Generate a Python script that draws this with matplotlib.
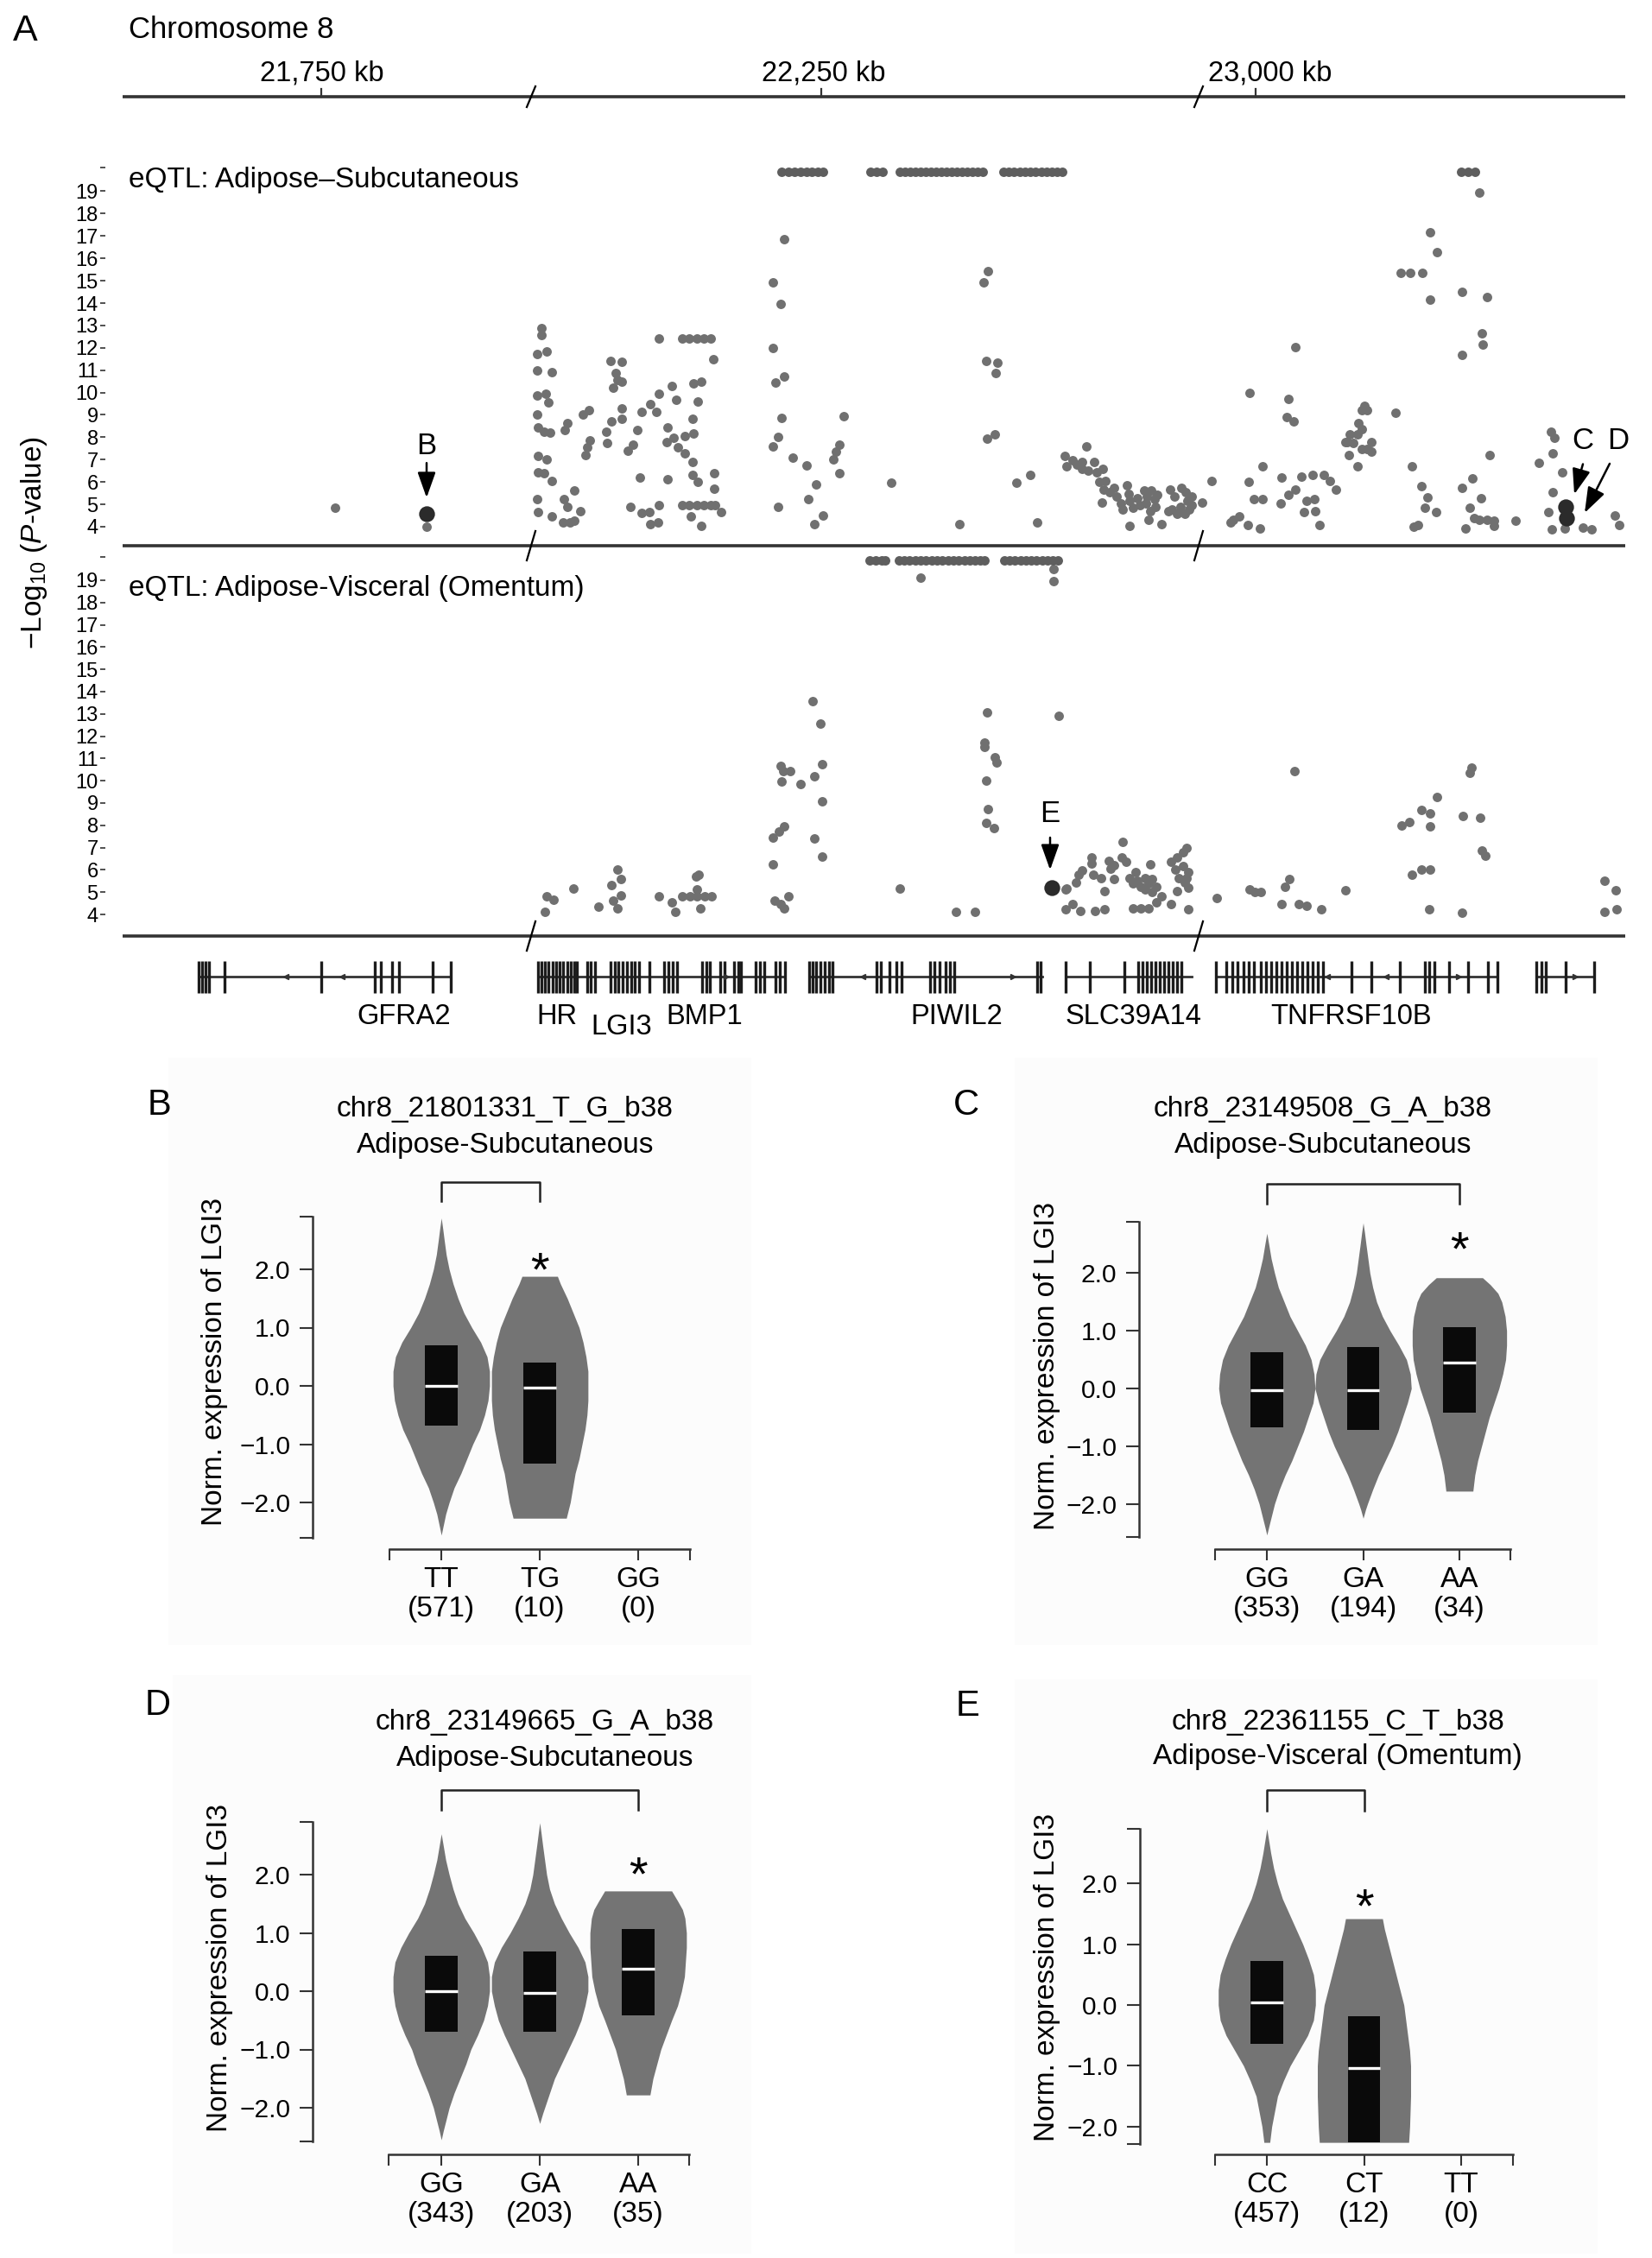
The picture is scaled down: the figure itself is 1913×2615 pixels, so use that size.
import matplotlib
matplotlib.use("Agg")
import matplotlib.pyplot as plt
from matplotlib.patches import Rectangle
import numpy as np

plt.rcParams['font.family'] = ['Liberation Sans', 'DejaVu Sans']
plt.rcParams['mathtext.fontset'] = 'custom'
plt.rcParams['mathtext.rm'] = 'Liberation Sans'
plt.rcParams['mathtext.it'] = 'Liberation Sans:italic'

# ---- panel A data (x = position along the drawn track, y = -log10 P) ----
kb_labels = ['21,750 kb', '22,250 kb', '23,000 kb']
kb_tick_x = [372, 951, 1454]
kb_label_x = [373, 954, 1471]

top_left = [(388, 4.85), (494, 4.0)]
top_hr = [(627, 12.88), (627, 12.56), (633, 11.83), (622, 11.72), (639, 10.91), (622, 11.0), (632, 9.95),
          (635, 9.56), (622, 9.86), (623, 8.44), (630, 8.25), (637, 8.22), (622, 9.0), (633, 7.02), (623, 7.15),
          (630, 6.38), (639, 6.06), (623, 6.45), (623, 4.64), (639, 4.45), (622, 5.22),
          (657, 8.63), (654, 8.31), (675, 9.02), (682, 9.21), (683, 7.86), (680, 7.54), (678, 7.22), (665, 5.61),
          (653, 5.22), (657, 4.9), (672, 4.71), (652, 4.19), (660, 4.19), (665, 4.26)]
top_lgi3 = [(707, 11.4), (720, 11.36), (713, 10.89), (715, 10.56), (710, 10.2), (720, 10.5), (720, 9.28),
            (708, 8.7), (720, 8.82), (702, 8.25), (703, 7.73), (727, 7.41), (733, 7.67), (738, 8.31), (743, 9.15),
            (753, 9.47), (760, 9.15), (763, 12.43), (763, 9.95), (741, 6.21), (730, 4.9), (743, 4.62), (752, 4.64),
            (763, 4.97), (753, 4.13), (762, 4.19)]
top_bmp1 = [(778, 10.3), (783, 9.69), (773, 8.44), (772, 7.8), (780, 7.99), (793, 8.05), (803, 8.18), (785, 7.54),
            (793, 7.28), (802, 6.9), (802, 8.83), (808, 9.6), (803, 10.4), (812, 10.5), (773, 6.12), (802, 6.32),
            (808, 6.0), (827, 6.38), (827, 5.7), (826, 11.49),
            (790, 12.43), (798, 12.43), (807, 12.43), (815, 12.43), (823, 12.43),
            (790, 4.97), (798, 4.97), (807, 4.97), (815, 4.97), (823, 4.97), (828, 4.97),
            (800, 4.45), (812, 4.03), (835, 4.67)]
top_piwil2 = [(895, 14.91), (904, 13.97), (908, 16.87), (895, 12.0), (908, 10.73), (898, 10.46), (905, 8.86),
              (901, 8.02), (895, 7.58), (901, 4.88), (918, 7.09), (934, 6.73), (945, 5.9), (936, 5.22), (953, 4.51),
              (943, 4.1), (977, 8.95), (972, 7.67), (968, 7.35), (965, 7.02), (972, 6.38), (1032, 5.96),
              (1144, 15.43), (1139, 14.91), (1142, 11.4), (1155, 11.34), (1153, 10.89), (1143, 7.93), (1152, 8.12),
              (1111, 4.1), (1177, 5.96), (1193, 6.32), (1201, 4.19), (1258, 7.58)]
top_slc = [(1233, 7.15), (1235, 6.7), (1242, 6.96), (1247, 6.77), (1253, 6.9), (1253, 6.57), (1260, 6.5),
           (1267, 6.9), (1270, 6.45), (1277, 6.57), (1273, 6.0), (1280, 6.06), (1278, 5.67), (1285, 5.54),
           (1276, 5.09), (1290, 5.74), (1293, 5.35), (1298, 5.03), (1300, 4.77), (1305, 5.87), (1307, 5.48),
           (1308, 5.16), (1312, 4.84), (1308, 4.03), (1317, 5.29), (1320, 4.97), (1325, 5.61), (1328, 5.35),
           (1327, 5.03), (1332, 4.71), (1330, 4.32), (1333, 5.61), (1337, 5.22), (1340, 5.42), (1338, 4.9),
           (1345, 4.13), (1355, 5.67), (1360, 5.35), (1357, 4.77), (1363, 4.58), (1368, 5.74), (1373, 5.54),
           (1375, 5.16), (1377, 4.77), (1372, 4.58), (1380, 5.35), (1380, 4.97), (1392, 5.09), (1367, 4.9),
           (1353, 4.71)]
top_tnf = [(1403, 6.06), (1447, 9.98), (1446, 6.0), (1462, 6.7), (1452, 5.22), (1462, 5.22), (1425, 4.19),
           (1435, 4.45), (1445, 4.06), (1459, 3.94), (1428, 4.32), (1500, 12.04), (1492, 9.73), (1490, 8.89),
           (1498, 8.7), (1484, 6.19), (1507, 6.25), (1520, 6.32), (1533, 6.32), (1540, 6.06), (1547, 5.67),
           (1500, 5.67), (1492, 5.42), (1483, 5.03), (1513, 5.16), (1522, 5.22), (1510, 4.64), (1523, 4.71),
           (1528, 4.06), (1558, 7.8),
           (1580, 9.41), (1583, 9.21), (1577, 9.21), (1573, 8.63), (1577, 8.38), (1572, 8.12), (1563, 8.12),
           (1560, 7.8), (1567, 7.73), (1577, 7.47), (1588, 7.8), (1588, 7.35), (1583, 7.47), (1562, 7.22),
           (1572, 6.7), (1616, 9.08), (1635, 6.7), (1646, 5.83), (1653, 5.31), (1650, 4.84), (1663, 4.64),
           (1637, 4.0), (1642, 4.06)]
top_right = [(1713, 18.93), (1656, 17.15), (1664, 16.29), (1622, 15.36), (1633, 15.36), (1647, 15.36),
             (1656, 14.17), (1693, 14.51), (1722, 14.27), (1716, 12.65), (1717, 12.13), (1693, 11.7),
             (1725, 7.19), (1693, 5.74), (1705, 6.16), (1715, 5.26), (1702, 4.84), (1707, 4.39), (1713, 4.32),
             (1722, 4.32), (1730, 4.26), (1730, 4.03), (1697, 3.94), (1755, 4.28), (1796, 8.25), (1800, 7.96),
             (1798, 7.28), (1782, 6.86), (1809, 6.45), (1798, 5.54), (1793, 4.64), (1797, 3.87), (1812, 3.94),
             (1833, 3.97), (1843, 3.87), (1870, 4.49), (1875, 4.06)]
# SNPs hitting the plot ceiling (P below the display limit)
top_cap_x = [905, 913, 920, 927, 934, 940, 947, 953, 1008, 1015, 1022,
             1042, 1048, 1054, 1060, 1066, 1072, 1078, 1084, 1090, 1096, 1102, 1108, 1114, 1120, 1126, 1132, 1138,
             1162, 1168, 1174, 1181, 1187, 1193, 1199, 1206, 1212, 1218, 1224, 1230, 1692, 1700, 1708]
top_marked = [(494, 4.58), (1813, 4.9), (1814, 4.39)]

bot_hr = [(631, 4.12), (633, 4.8), (641, 4.67), (664, 5.15), (693, 4.35), (708, 5.32), (715, 6.0), (719, 5.58),
          (719, 4.87), (710, 4.61), (715, 4.28), (763, 4.8), (778, 4.54), (782, 4.12), (806, 5.71), (809, 5.77),
          (790, 4.8), (799, 4.8), (807, 4.8), (816, 4.8), (824, 4.8), (807, 5.12), (811, 4.28)]
bot_piwil2 = [(941, 13.59), (950, 12.55), (904, 10.68), (907, 10.42), (915, 10.42), (905, 9.97), (927, 9.84),
              (943, 10.19), (952, 10.74), (952, 9.06), (908, 7.97), (902, 7.71), (895, 7.45), (943, 7.42),
              (895, 6.26), (952, 6.58), (897, 4.61), (904, 4.48), (908, 4.28), (913, 4.8),
              (1042, 5.15), (1066, 19.1), (1107, 4.12), (1129, 4.12),
              (1143, 13.07), (1140, 11.71), (1140, 11.52), (1152, 11.07), (1154, 10.81), (1142, 9.99),
              (1144, 8.72), (1142, 8.1), (1151, 7.86), (1220, 19.5), (1220, 18.97), (1226, 12.9),
              (1234, 5.12), (1234, 4.22)]
bot_slc = [(1235, 5.15), (1242, 4.48), (1251, 4.16), (1249, 5.77), (1253, 5.96), (1246, 5.45), (1264, 6.55),
           (1264, 6.29), (1266, 5.77), (1275, 5.64), (1268, 4.16), (1279, 4.25), (1279, 5.06), (1284, 6.42),
           (1290, 6.22), (1286, 6.05), (1290, 5.58), (1300, 7.26), (1299, 6.55), (1304, 6.35), (1308, 5.64),
           (1312, 5.38), (1317, 5.51), (1321, 5.25), (1326, 5.64), (1330, 5.38), (1334, 5.58), (1339, 5.25),
           (1315, 5.9), (1332, 6.26), (1326, 5.12), (1334, 5.0), (1312, 4.28), (1321, 4.28), (1330, 4.28),
           (1339, 4.54), (1345, 4.8), (1356, 4.48), (1356, 6.35), (1363, 6.55), (1370, 6.8), (1374, 7.0),
           (1361, 6.03), (1370, 6.16), (1376, 5.9), (1365, 5.64), (1372, 5.45), (1376, 5.19), (1363, 5.06),
           (1374, 5.64), (1376, 4.25)]
bot_tnf = [(1409, 4.74), (1447, 5.12), (1453, 5.0), (1460, 5.0), (1488, 5.25), (1493, 5.58), (1484, 4.48),
           (1504, 4.48), (1513, 4.37), (1530, 4.22), (1499, 10.45), (1558, 5.09),
           (1623, 7.99), (1632, 8.16), (1646, 8.68), (1656, 8.55), (1664, 9.26), (1656, 7.97), (1694, 8.42),
           (1714, 8.33), (1704, 10.6), (1702, 10.36), (1716, 6.87), (1720, 6.65), (1635, 5.77), (1646, 6.03),
           (1656, 6.03), (1655, 4.22), (1693, 4.06), (1858, 5.51), (1871, 5.1), (1858, 4.12), (1872, 4.22)]
bot_cap_x = [1007, 1014, 1021, 1025,
             1041, 1047, 1053, 1060, 1066, 1072, 1079, 1085, 1091, 1098, 1104, 1110, 1117, 1123, 1129, 1135, 1140,
             1163, 1169, 1175, 1182, 1188, 1194, 1200, 1207, 1213, 1219, 1225]
bot_marked = [(1218, 5.19)]

CAP = 19.88

# gene track
gene_names = ['GFRA2', 'HR', 'LGI3', 'BMP1', 'PIWIL2', 'SLC39A14', 'TNFRSF10B']
gene_label_x = [468, 645, 720, 816, 1108, 1313, 1565]
gene_label_low = [False, False, True, False, False, False, False]
gene_spans = [(230, 522), (623, 909), (937, 1207), (1234, 1380), (1408, 1734), (1779, 1846)]
exon_x = [230, 234, 238, 242, 260, 372, 434, 441, 454, 462, 501, 522,
          623, 627, 631, 635, 640, 644, 648, 652, 657, 661, 665, 668, 680, 684, 689,
          707, 712, 716, 721, 726, 731, 735, 740, 752, 769, 774, 779, 784,
          813, 818, 822, 834, 839, 850, 855, 858, 875, 880, 885, 898, 903, 909,
          937, 941, 945, 950, 955, 960, 964, 1015, 1020, 1030, 1038, 1044,
          1077, 1082, 1088, 1095, 1100, 1105, 1201, 1205,
          1234, 1262, 1302, 1318, 1323, 1328, 1333, 1338, 1343, 1348, 1353, 1358, 1363, 1368,
          1408, 1420, 1427, 1433, 1440, 1446, 1452, 1460, 1466, 1472, 1478, 1484, 1490, 1496,
          1502, 1508, 1514, 1520, 1526, 1532, 1565, 1588, 1621, 1650, 1655, 1661, 1678, 1700, 1723, 1734,
          1779, 1785, 1790, 1813, 1846]
strand_minus_x = [331, 396, 999, 1537, 1605]
strand_plus_x = [841, 1173, 1689, 1824]

# ---- violin panels: outline (level, half width in category units) ----
b_tt_y = [-2.56, -2.4, -2.2, -2.0, -1.75, -1.5, -1.25, -1.0, -0.75, -0.5, -0.25, 0.0, 0.25, 0.5, 0.75,
          1.0, 1.25, 1.5, 1.75, 2.0, 2.25, 2.5, 2.7, 2.88]
b_tt_w = [0.0, 0.02, 0.045, 0.08, 0.13, 0.2, 0.26, 0.32, 0.39, 0.44, 0.475, 0.49, 0.49, 0.465, 0.40,
          0.31, 0.23, 0.17, 0.12, 0.08, 0.05, 0.03, 0.015, 0.0]
b_tg_y = [-2.27, -2.27, -2.0, -1.75, -1.5, -1.25, -1.0, -0.75, -0.5, -0.25, 0.0, 0.25, 0.5, 0.75, 1.0,
          1.25, 1.5, 1.75, 1.88, 1.88]
b_tg_w = [0.0, 0.27, 0.31, 0.335, 0.36, 0.40, 0.43, 0.46, 0.48, 0.49, 0.49, 0.49, 0.47, 0.44, 0.40,
          0.34, 0.28, 0.21, 0.18, 0.0]
b_q1, b_q3, b_med = [-0.68, -1.33], [0.70, 0.40], [0.0, -0.03]
b_geno, b_n = ['TT', 'TG', 'GG'], [571, 10, 0]

c_gg_y = [-2.54, -2.4, -2.2, -2.0, -1.75, -1.5, -1.25, -1.0, -0.75, -0.5, -0.25, 0.0, 0.25, 0.5, 0.75,
          1.0, 1.25, 1.5, 1.75, 2.0, 2.25, 2.5, 2.69]
c_gg_w = [0.0, 0.02, 0.05, 0.08, 0.13, 0.19, 0.26, 0.32, 0.38, 0.43, 0.48, 0.50, 0.49, 0.46, 0.40,
          0.32, 0.24, 0.18, 0.12, 0.08, 0.045, 0.02, 0.0]
c_ga_y = [-2.25, -2.1, -2.0, -1.75, -1.5, -1.25, -1.0, -0.75, -0.5, -0.25, 0.0, 0.25, 0.5, 0.75, 1.0,
          1.25, 1.5, 1.75, 2.0, 2.25, 2.5, 2.7, 2.87]
c_ga_w = [0.0, 0.025, 0.045, 0.1, 0.16, 0.23, 0.30, 0.36, 0.41, 0.46, 0.50, 0.49, 0.45, 0.37, 0.28,
          0.20, 0.14, 0.10, 0.07, 0.05, 0.03, 0.015, 0.0]
c_aa_y = [-1.78, -1.78, -1.5, -1.25, -1.0, -0.75, -0.5, -0.25, 0.0, 0.25, 0.5, 0.75, 1.0, 1.25, 1.5,
          1.65, 1.8, 1.92, 1.92]
c_aa_w = [0.0, 0.14, 0.16, 0.19, 0.23, 0.27, 0.31, 0.36, 0.41, 0.45, 0.48, 0.49, 0.49, 0.475, 0.44,
          0.40, 0.32, 0.24, 0.0]
c_q1, c_q3, c_med = [-0.67, -0.72, -0.42], [0.63, 0.72, 1.06], [-0.03, -0.03, 0.45]
c_geno, c_n = ['GG', 'GA', 'AA'], [353, 194, 34]

d_gg_y = [-2.55, -2.4, -2.2, -2.0, -1.75, -1.5, -1.25, -1.0, -0.75, -0.5, -0.25, 0.0, 0.25, 0.5, 0.75,
          1.0, 1.25, 1.5, 1.75, 2.0, 2.25, 2.5, 2.7]
d_gg_w = [0.0, 0.02, 0.05, 0.08, 0.13, 0.19, 0.25, 0.30, 0.37, 0.43, 0.47, 0.49, 0.49, 0.47, 0.41,
          0.33, 0.24, 0.17, 0.12, 0.08, 0.045, 0.02, 0.0]
d_ga_y = [-2.27, -2.1, -2.0, -1.75, -1.5, -1.25, -1.0, -0.75, -0.5, -0.25, 0.0, 0.25, 0.5, 0.75, 1.0,
          1.25, 1.5, 1.75, 2.0, 2.25, 2.5, 2.7, 2.89]
d_ga_w = [0.0, 0.03, 0.05, 0.1, 0.15, 0.22, 0.29, 0.36, 0.42, 0.46, 0.49, 0.49, 0.46, 0.39, 0.30,
          0.22, 0.15, 0.10, 0.07, 0.05, 0.03, 0.015, 0.0]
d_aa_y = [-1.78, -1.78, -1.5, -1.25, -1.0, -0.75, -0.5, -0.25, 0.0, 0.25, 0.5, 0.75, 1.0, 1.25, 1.4,
          1.55, 1.72, 1.72]
d_aa_w = [0.0, 0.12, 0.15, 0.19, 0.23, 0.285, 0.34, 0.40, 0.44, 0.47, 0.48, 0.49, 0.49, 0.475, 0.45,
          0.40, 0.34, 0.0]
d_q1, d_q3, d_med = [-0.70, -0.70, -0.41], [0.61, 0.68, 1.07], [0.0, -0.03, 0.39]
d_geno, d_n = ['GG', 'GA', 'AA'], [343, 203, 35]

e_cc_y = [-2.26, -2.26, -2.0, -1.75, -1.5, -1.25, -1.0, -0.75, -0.5, -0.25, 0.0, 0.25, 0.5, 0.75, 1.0,
          1.25, 1.5, 1.75, 2.0, 2.25, 2.5, 2.7, 2.9]
e_cc_w = [0.0, 0.03, 0.05, 0.08, 0.11, 0.17, 0.24, 0.33, 0.42, 0.48, 0.50, 0.50, 0.48, 0.43, 0.37,
          0.30, 0.23, 0.16, 0.11, 0.07, 0.04, 0.02, 0.0]
e_ct_y = [-2.26, -2.26, -2.0, -1.5, -1.0, -0.75, -0.5, -0.25, 0.0, 0.25, 0.5, 0.75, 1.0, 1.25, 1.42, 1.42]
e_ct_w = [0.0, 0.46, 0.47, 0.48, 0.48, 0.47, 0.45, 0.43, 0.41, 0.37, 0.33, 0.29, 0.25, 0.21, 0.19, 0.0]
e_q1, e_q3, e_med = [-0.64, -2.26], [0.72, -0.19], [0.04, -1.03]
e_geno, e_n = ['CC', 'CT', 'TT'], [457, 12, 0]

DOT = '#707070'
VIOLIN = '#747474'
DARK = '#2b2b2b'
LINE = '#333333'

W, H = 1913, 2615
fig = plt.figure(figsize=(W / 100, H / 100), dpi=100)


def rect(x0, y0, x1, y1):
    return [x0 / W, 1 - y1 / H, (x1 - x0) / W, (y1 - y0) / H]


# overlay in pixel units for layout text and lines
ov = fig.add_axes([0, 0, 1, 1])
ov.set_xlim(0, W)
ov.set_ylim(H, 0)
ov.axis('off')
ov.set_zorder(0)

for bx in [(195, 1225, 870, 1905), (1175, 1225, 1850, 1905), (200, 1940, 870, 2610), (1175, 1945, 1850, 2610)]:
    ov.add_patch(Rectangle((bx[0], bx[1]), bx[2] - bx[0], bx[3] - bx[1], color='#fcfcfc', lw=0))

ov.text(29, 36, 'A', fontsize=31, ha='center', va='center')
ov.text(149, 34, 'Chromosome 8', fontsize=25, va='center')

# horizontal track lines with break marks
for yy in [112, 632, 1084]:
    ov.plot([142, 1882], [yy, yy], color=LINE, lw=2.6, solid_capstyle='butt')
    for bxk in [615, 1388]:
        d = 12 if yy == 112 else 17
        ov.plot([bxk + 5, bxk - 5], [yy - d, yy + d], color='black', lw=1.6)
for tx in kb_tick_x:
    ov.plot([tx, tx], [103, 112], color=LINE, lw=1.6)
for lx, lab in zip(kb_label_x, kb_labels):
    ov.text(lx, 85, lab, fontsize=23.5, ha='center', va='center')

ov.text(40, 628, '\u2212Log$_{10}$ ($\\it{P}$-value)', fontsize=24, rotation=90, ha='center', va='center')

# gene track
for s, e in gene_spans:
    ov.plot([s, e], [1131, 1131], color=LINE, lw=2)
ov.vlines(exon_x, 1113, 1150, color='#1c1c1c', lw=2.4)
ov.plot(strand_minus_x, [1131] * len(strand_minus_x), ls='none', marker='<', ms=5, color=LINE)
ov.plot(strand_plus_x, [1131] * len(strand_plus_x), ls='none', marker='>', ms=5, color=LINE)
for name, gx, low in zip(gene_names, gene_label_x, gene_label_low):
    ov.text(gx, 1189 if low else 1177, name, fontsize=23.5, ha='center', va='center')


def manhattan(box, y4_px, px_per_unit, groups, cap_x, marked, title, title_y):
    ax = fig.add_axes(rect(*box))
    ax.set_facecolor('none')
    ax.set_zorder(1)
    ax.set_xlim(box[0], box[2])
    ax.set_ylim(4 - (box[3] - y4_px) / px_per_unit, 4 + (y4_px - box[1]) / px_per_unit)
    for g in groups:
        gx, gy = zip(*g)
        ax.scatter(gx, gy, s=62, color=DOT, lw=0, zorder=2)
    ax.scatter(cap_x, [CAP] * len(cap_x), s=62, color='#5e5e5e', lw=0, zorder=2)
    mx, my = zip(*marked)
    ax.scatter(mx, my, s=175, color=DARK, lw=0, zorder=3)
    for sp in ax.spines.values():
        sp.set_visible(False)
    ax.set_xticks([])
    yt = list(range(4, 20)) + [20.05]
    ax.set_yticks(yt, [str(v) for v in range(4, 20)] + [''])
    ax.tick_params(axis='y', length=4.5, width=1.2, pad=1.5, labelsize=17, color=LINE)
    ax.text(149, title_y, title, fontsize=24, va='center')
    return ax


ax_top = manhattan((122, 180, 1890, 632), 610, 25.9,
                   [top_left, top_hr, top_lgi3, top_bmp1, top_piwil2, top_slc, top_tnf, top_right],
                   top_cap_x, top_marked, 'eQTL: Adipose\u2013Subcutaneous', 19.5)
ax_bot = manhattan((122, 632, 1890, 1084), 1059, 25.8,
                   [bot_hr, bot_piwil2, bot_slc, bot_tnf],
                   bot_cap_x, bot_marked, 'eQTL: Adipose-Visceral (Omentum)', 18.62)

arrow = dict(arrowstyle='-|>,head_length=0.9,head_width=0.32', color='black', lw=1.8,
             mutation_scale=20, shrinkA=0, shrinkB=0)
ax_top.text(494, 7.6, 'B', fontsize=25, ha='center', va='center')
ax_top.annotate('', xy=(494, 5.3), xytext=(494, 6.85), arrowprops=arrow)
ax_top.text(1833, 7.86, 'C', fontsize=25, ha='center', va='center')
ax_top.text(1874, 7.86, 'D', fontsize=25, ha='center', va='center')
ax_top.annotate('', xy=(1823, 5.45), xytext=(1833, 6.8), arrowprops=arrow)
ax_top.annotate('', xy=(1835, 4.62), xytext=(1864, 6.82), arrowprops=arrow)
ax_bot.text(1216, 8.5, 'E', fontsize=25, ha='center', va='center')
ax_bot.annotate('', xy=(1216, 6.0), xytext=(1216, 7.45), arrowprops=arrow)


def violin_panel(box, cat0, xunit, zero, yunit, yspine_px, xaxis_px, xaxis_span, yspan,
                 profiles, q1, q3, med, geno, counts, bracket, star, letter, letter_xy,
                 title1, title2, title_x, title_y, ylab_xy):
    ax = fig.add_axes(rect(*box))
    ax.set_facecolor('none')
    ax.set_zorder(1)
    ax.set_xlim((box[0] - cat0) / xunit, (box[2] - cat0) / xunit)
    ax.set_ylim((zero - box[3]) / yunit, (zero - box[1]) / yunit)
    for i, (py, pw) in enumerate(profiles):
        py = np.array(py)
        pw = np.array(pw)
        ax.fill_betweenx(py, i - pw, i + pw, color=VIOLIN, lw=0, zorder=2)
        ax.add_patch(Rectangle((i - 0.167, q1[i]), 0.334, q3[i] - q1[i], color='#0a0a0a', lw=0, zorder=3))
        ax.plot([i - 0.167, i + 0.167], [med[i], med[i]], color='white', lw=2.4, zorder=4,
                solid_capstyle='butt')
    for k in ['top', 'right']:
        ax.spines[k].set_visible(False)
    xl = (xaxis_span[0] - cat0) / xunit
    xr = (xaxis_span[1] - cat0) / xunit
    ax.spines['left'].set_position(('data', (yspine_px - cat0) / xunit))
    ax.spines['left'].set_bounds(yspan[0], yspan[1])
    ax.spines['bottom'].set_position(('data', (zero - xaxis_px) / yunit))
    ax.spines['bottom'].set_bounds(xl, xr)
    for k in ['left', 'bottom']:
        ax.spines[k].set_linewidth(1.8)
        ax.spines[k].set_color(LINE)
    ax.set_yticks([yspan[0], -2, -1, 0, 1, 2, yspan[1]],
                  ['', '\u22122.0', '\u22121.0', '0.0', '1.0', '2.0', ''])
    ax.set_xticks([xl, 0, 1, 2, xr], [''] + [f'{g}\n({n})' for g, n in zip(geno, counts)] + [''])
    ax.tick_params(axis='y', length=10.5, width=1.5, pad=8, labelsize=21.5, color=LINE)
    ax.tick_params(axis='x', length=9.5, width=1.5, pad=5, labelsize=24, color=LINE)
    for t in ax.get_xticklabels():
        t.set_linespacing(1.1)
    c0, c1 = bracket[0]
    ytop, ybot = bracket[1]
    ax.plot([c0, c0, c1, c1], [ybot, ytop, ytop, ybot], color='#222222', lw=1.8, clip_on=False)
    ax.annotate('*', xy=star, xytext=(0, -23), textcoords='offset points', ha='center',
                va='baseline', fontsize=40, annotation_clip=False)
    ov.text(letter_xy[0], letter_xy[1], letter, fontsize=30, ha='center', va='center')
    ov.text(title_x, title_y, title1, fontsize=24, ha='center', va='center')
    ov.text(title_x, title_y + 41, title2, fontsize=24, ha='center', va='center')
    ov.text(ylab_xy[0], ylab_xy[1], 'Norm. expression of LGI3', fontsize=24, rotation=90,
            ha='center', va='center')
    return ax


violin_panel((290, 1330, 850, 1840), 511, 114, 1605, 67.5, 362, 1794, (451, 799), (-2.6, 2.9),
             [(b_tt_y, b_tt_w), (b_tg_y, b_tg_w)], b_q1, b_q3, b_med, b_geno, b_n,
             ((0, 1), (3.50, 3.17)), (1, 2.2), 'B', (184, 1280),
             'chr8_21801331_T_G_b38', 'Adipose-Subcutaneous', 585, 1285, (249, 1577))
violin_panel((1250, 1330, 1810, 1840), 1467, 111.5, 1608, 66.8, 1319, 1794, (1407, 1749), (-2.57, 2.89),
             [(c_gg_y, c_gg_w), (c_ga_y, c_ga_w), (c_aa_y, c_aa_w)], c_q1, c_q3, c_med, c_geno, c_n,
             ((0, 2), (3.55, 3.20)), (2, 2.63), 'C', (1119, 1280),
             'chr8_23149508_G_A_b38', 'Adipose-Subcutaneous', 1532, 1285, (1212, 1582))
violin_panel((290, 2030, 850, 2545), 511, 114, 2306, 67.5, 362, 2495, (450, 798), (-2.58, 2.9),
             [(d_gg_y, d_gg_w), (d_ga_y, d_ga_w), (d_aa_y, d_aa_w)], d_q1, d_q3, d_med, d_geno, d_n,
             ((0, 2), (3.45, 3.11)), (2, 2.22), 'D', (183, 1975),
             'chr8_23149665_G_A_b38', 'Adipose-Subcutaneous', 631, 1995, (255, 2279))
violin_panel((1250, 2030, 1810, 2545), 1467, 112.5, 2322, 70.4, 1320, 2495, (1407, 1752), (-2.29, 2.9),
             [(e_cc_y, e_cc_w), (e_ct_y, e_ct_w)], e_q1, e_q3, e_med, e_geno, e_n,
             ((0, 1), (3.54, 3.20)), (1, 1.82), 'E', (1120, 1976),
             'chr8_22361155_C_T_b38', 'Adipose-Visceral (Omentum)', 1549, 1994, (1212, 2290))

fig.savefig('out.png', dpi=100)
